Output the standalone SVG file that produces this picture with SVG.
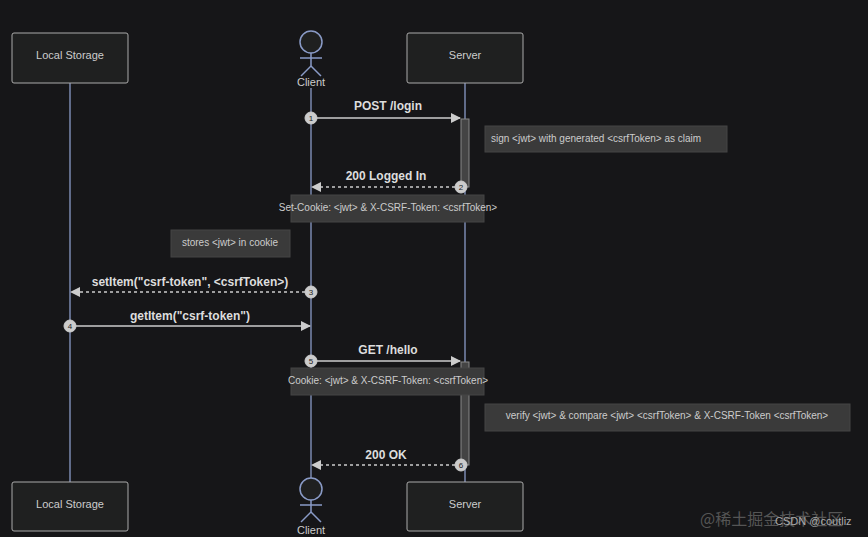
<svg xmlns="http://www.w3.org/2000/svg" width="868" height="537" viewBox="0 0 868 537">
<defs>
<style>
text{font-family:"Liberation Sans",Arial,sans-serif;fill:#ccc}
.box{fill:#1f2020;stroke:#aaa;stroke-width:1}
.bt{font-size:11px;text-anchor:middle}
.life{stroke:#8a9bc7;stroke-width:1.3}
.msg{stroke:#ccc;stroke-width:1.5;fill:none}
.dash{stroke-dasharray:3,3}
.ml{font-size:12px;font-weight:bold;text-anchor:middle;fill:#ddd}
.note{fill:#3a3a3a;stroke:#444}
.nt{font-size:10px;fill:#ccc}
.num{fill:#ccc;stroke:#ccc}
.nn{font-size:8px;fill:#222;text-anchor:middle}
.act{fill:#444;stroke:#888}
.actor{fill:#1f2020;stroke:#8a9bc7;stroke-width:1.5}
</style>
<marker id="ah" markerWidth="10" markerHeight="10" refX="9" refY="5" orient="auto" markerUnits="userSpaceOnUse"><path d="M0,0 L10,5 L0,10 z" fill="#ccc"/></marker>
</defs>
<rect width="868" height="537" fill="#161618"/>
<g id="lifelines">
<line class="life" x1="70" y1="83" x2="70" y2="482"/>
<line class="life" x1="311" y1="88" x2="311" y2="478"/>
<line class="life" x1="465" y1="83" x2="465" y2="482"/>
</g>
<g id="ls-top"><rect class="box" x="12" y="33" width="116" height="50" rx="2"/><text class="bt" x="70" y="59">Local Storage</text></g>
<g id="ls-bottom"><rect class="box" x="12" y="482" width="116" height="49" rx="2"/><text class="bt" x="70" y="508">Local Storage</text></g>
<g id="server-top"><rect class="box" x="407" y="33" width="116" height="50" rx="2"/><text class="bt" x="465" y="59">Server</text></g>
<g id="server-bottom"><rect class="box" x="407" y="482" width="116" height="49" rx="2"/><text class="bt" x="465" y="508">Server</text></g>
<g id="client-top"><circle class="actor" cx="311" cy="42" r="11"/><line class="actor" x1="311" y1="53" x2="311" y2="66"/><line class="actor" x1="300" y1="58" x2="322" y2="58"/><line class="actor" x1="311" y1="66" x2="301" y2="76"/><line class="actor" x1="311" y1="66" x2="321" y2="76"/><text class="bt" x="311" y="86">Client</text></g>
<g id="client-bottom"><circle class="actor" cx="311" cy="489" r="11"/><line class="actor" x1="311" y1="500" x2="311" y2="512"/><line class="actor" x1="300" y1="505" x2="322" y2="505"/><line class="actor" x1="311" y1="512" x2="301" y2="522"/><line class="actor" x1="311" y1="512" x2="321" y2="522"/><text class="bt" x="311" y="534">Client</text></g>
<g id="activations">
<rect class="act" x="461" y="119" width="8" height="68"/>
<rect class="act" x="461" y="362" width="8" height="103"/>
</g>
<g id="notes">
<rect class="note" x="485" y="126" width="242" height="26"/><text class="nt" x="491" y="142">sign &lt;jwt&gt; with generated &lt;csrfToken&gt; as claim</text>
<rect class="note" x="291" y="195" width="193" height="27"/><text class="nt" x="388" y="211" text-anchor="middle">Set-Cookie: &lt;jwt&gt; &amp; X-CSRF-Token: &lt;csrfToken&gt;</text>
<rect class="note" x="171" y="230" width="119" height="27"/><text class="nt" x="230" y="246" text-anchor="middle">stores &lt;jwt&gt; in cookie</text>
<rect class="note" x="291" y="368" width="193" height="27"/><text class="nt" x="388" y="384" text-anchor="middle">Cookie: &lt;jwt&gt; &amp; X-CSRF-Token: &lt;csrfToken&gt;</text>
<rect class="note" x="485" y="404" width="365" height="27"/><text class="nt" x="667" y="419" text-anchor="middle">verify &lt;jwt&gt; &amp; compare &lt;jwt&gt; &lt;csrfToken&gt; &amp; X-CSRF-Token &lt;csrfToken&gt;</text>
</g>
<g id="connectors">
<line class="msg" x1="311" y1="118" x2="460" y2="118" marker-end="url(#ah)"/>
<text class="ml" x="388" y="110">POST /login</text>
<line class="msg dash" x1="461" y1="187" x2="312" y2="187" marker-end="url(#ah)"/>
<text class="ml" x="386" y="180">200 Logged In</text>
<line class="msg dash" x1="311" y1="292" x2="71" y2="292" marker-end="url(#ah)"/>
<text class="ml" x="190" y="286">setItem("csrf-token", &lt;csrfToken&gt;)</text>
<line class="msg" x1="70" y1="326" x2="310" y2="326" marker-end="url(#ah)"/>
<text class="ml" x="190" y="320">getItem("csrf-token")</text>
<line class="msg" x1="311" y1="361" x2="460" y2="361" marker-end="url(#ah)"/>
<text class="ml" x="388" y="354">GET /hello</text>
<line class="msg dash" x1="461" y1="465" x2="312" y2="465" marker-end="url(#ah)"/>
<text class="ml" x="386" y="459">200 OK</text>
</g>
<g id="numbers">
<circle class="num" cx="311" cy="118" r="6"/><text class="nn" x="311" y="121">1</text>
<circle class="num" cx="461" cy="187" r="6"/><text class="nn" x="461" y="190">2</text>
<circle class="num" cx="311" cy="292" r="6"/><text class="nn" x="311" y="295">3</text>
<circle class="num" cx="70" cy="326" r="6"/><text class="nn" x="70" y="329">4</text>
<circle class="num" cx="311" cy="361" r="6"/><text class="nn" x="311" y="364">5</text>
<circle class="num" cx="461" cy="465" r="6"/><text class="nn" x="461" y="468">6</text>
</g>
<g id="watermark">
<text x="700" y="525" font-size="16" style="fill:#555;font-family:'Noto Sans CJK SC',sans-serif">@稀土掘金技术社区</text>
<text x="775" y="525" font-size="11" style="fill:#aaa">CSDN @coutliz</text>
</g>
</svg>
